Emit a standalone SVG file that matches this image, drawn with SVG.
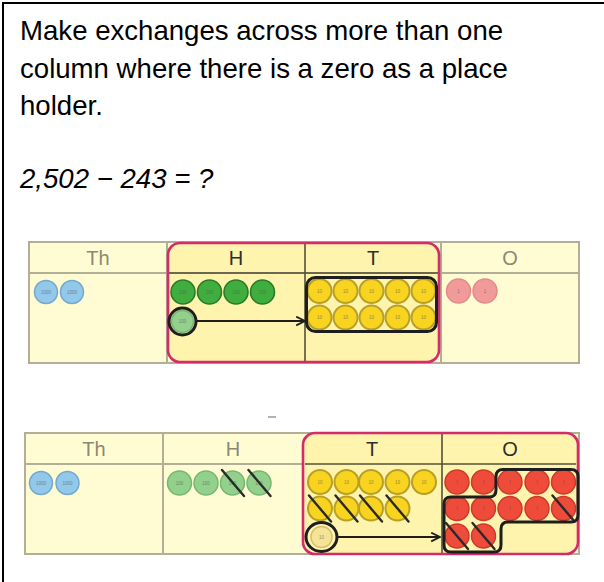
<svg xmlns="http://www.w3.org/2000/svg" width="604" height="582" viewBox="0 0 604 582">
<style>
.title{font-family:"Liberation Sans",Arial,sans-serif;font-size:27.6px;fill:#000}
.hdr{font-family:"Liberation Sans",Arial,sans-serif;font-size:20px;text-anchor:middle}
.g{fill:#8c8874}.d{fill:#2e2e2e}
.cell{fill:#fffbd3}
.hi{fill:#fff4ad}
.grid{stroke:#b3ae96;stroke-width:2;fill:none}
.dgrid{stroke:#55503a;stroke-width:1.6;fill:none}
.pink{fill:none;stroke:#d42b6b;stroke-width:2.6}
.th{fill:#92c8ea;stroke:#74a9cd;stroke-width:1.5}
.hd{fill:#3fae3f;stroke:#2b7a2b;stroke-width:1.6}
.hl{fill:#92d08c;stroke:#76b872;stroke-width:1.5}
.t{fill:#f8d31f;stroke:#b8a026;stroke-width:2}
.tl{fill:#f5e496;stroke:#d4c070;stroke-width:1.5}
.o1{fill:#f09a9a;stroke:#e58a8a;stroke-width:1.5}
.o2{fill:#ee4b3b;stroke:#cc3a2c;stroke-width:1.5}
.lab{font-family:"Liberation Sans",Arial,sans-serif;font-size:4.5px;text-anchor:middle;fill:#555;opacity:0.6}
.x{stroke:#2a2a2a;stroke-width:2.4;stroke-linecap:round}
.ring{fill:none;stroke:#1e1e1e;stroke-width:3}
.conn{stroke:#1e1e1e;stroke-width:2.2;fill:none}
</style>
<defs>
<marker id="arr" viewBox="0 0 10 10" refX="9" refY="5" markerWidth="5" markerHeight="5" orient="auto" markerUnits="strokeWidth">
<path d="M1,1 L9,5 L1,9" fill="none" stroke="#1e1e1e" stroke-width="1.6"/>
</marker>
</defs>
<rect width="604" height="582" fill="#fff"/>
<g id="frame"><path d="M3,582 V3 H604" fill="none" stroke="#000" stroke-width="2"/></g>
<g id="title">
<text class="title" x="20" y="40">Make exchanges across more than one</text>
<text class="title" x="20" y="77.5">column where there is a zero as a place</text>
<text class="title" x="20" y="115">holder.</text>
<text class="title" x="20" y="188" font-style="italic">2,502 − 243 = ?</text>
</g>
<g id="table1">
<rect class="cell" x="29" y="242" width="550" height="121"/>
<rect class="hi" x="168" y="243" width="271" height="119" rx="12"/>
<path class="grid" d="M29,242 H579 V363 H29 Z M29,273 H579 M167,242 V363 M441,242 V363"/>
<path class="dgrid" d="M169,273 H438 M305,243 V362"/>
<rect class="pink" x="168" y="243" width="271" height="119" rx="12"/>
<text class="hdr g" x="98" y="265">Th</text>
<text class="hdr d" x="236" y="265">H</text>
<text class="hdr d" x="373" y="265">T</text>
<text class="hdr g" x="510" y="265">O</text>
<g id="t1-th">
<circle class="th" cx="46" cy="292" r="11.5"/><text class="lab" x="46" y="293.5">1000</text>
<circle class="th" cx="72" cy="292" r="11.5"/><text class="lab" x="72" y="293.5">1000</text>
</g>
<g id="t1-h">
<circle class="hd" cx="183" cy="292" r="12"/><text class="lab" x="183" y="293.5">100</text>
<circle class="hd" cx="209.5" cy="292" r="12"/><text class="lab" x="209.5" y="293.5">100</text>
<circle class="hd" cx="236" cy="292" r="12"/><text class="lab" x="236" y="293.5">100</text>
<circle class="hd" cx="262.5" cy="292" r="12"/><text class="lab" x="262.5" y="293.5">100</text>
<circle class="hl" cx="182.5" cy="321.5" r="11"/><text class="lab" x="182.5" y="323">100</text>
<circle class="ring" cx="182.5" cy="321.5" r="13.5"/>
</g>
<g id="t1-t">
<circle class="t" cx="319.5" cy="291" r="12"/><text class="lab" x="319.5" y="292.5">10</text>
<circle class="t" cx="345.5" cy="291" r="12"/><text class="lab" x="345.5" y="292.5">10</text>
<circle class="t" cx="371.5" cy="291" r="12"/><text class="lab" x="371.5" y="292.5">10</text>
<circle class="t" cx="397.5" cy="291" r="12"/><text class="lab" x="397.5" y="292.5">10</text>
<circle class="t" cx="423.5" cy="291" r="12"/><text class="lab" x="423.5" y="292.5">10</text>
<circle class="t" cx="319.5" cy="317.5" r="12"/><text class="lab" x="319.5" y="319">10</text>
<circle class="t" cx="345.5" cy="317.5" r="12"/><text class="lab" x="345.5" y="319">10</text>
<circle class="t" cx="371.5" cy="317.5" r="12"/><text class="lab" x="371.5" y="319">10</text>
<circle class="t" cx="397.5" cy="317.5" r="12"/><text class="lab" x="397.5" y="319">10</text>
<circle class="t" cx="423.5" cy="317.5" r="12"/><text class="lab" x="423.5" y="319">10</text>
<rect class="ring" x="306.5" y="277.5" width="130" height="54" rx="9"/>
</g>
<g id="t1-o">
<circle class="o1" cx="458.5" cy="291" r="12"/><text class="lab" x="458.5" y="292.5">1</text>
<circle class="o1" cx="485" cy="291" r="12"/><text class="lab" x="485" y="292.5">1</text>
</g>
</g>
<g id="table2">
<line x1="268" y1="417" x2="276" y2="417" stroke="#9a9a9a" stroke-width="1.5"/>
<rect class="cell" x="25" y="433" width="554" height="121"/>
<rect class="hi" x="303" y="433" width="275" height="121" rx="12"/>
<path class="grid" d="M25,433 H579 V554 H25 Z M25,464 H303 M163,433 V554"/>
<path class="dgrid" d="M305,464 H576 M442,434 V553"/>
<rect class="pink" x="303" y="433" width="275" height="121" rx="12"/>
<text class="hdr g" x="94" y="456">Th</text>
<text class="hdr g" x="233" y="456">H</text>
<text class="hdr d" x="372" y="456">T</text>
<text class="hdr d" x="510" y="456">O</text>
<g id="t2-th">
<circle class="th" cx="41" cy="483" r="11.5"/><text class="lab" x="41" y="484.5">1000</text>
<circle class="th" cx="67.5" cy="483" r="11.5"/><text class="lab" x="67.5" y="484.5">1000</text>
</g>
<g id="t2-h">
<circle class="hl" cx="179.5" cy="483" r="12"/><text class="lab" x="179.5" y="484.5">100</text>
<circle class="hl" cx="206" cy="483" r="12"/><text class="lab" x="206" y="484.5">100</text>
<circle class="hl" cx="232.5" cy="483" r="12"/><text class="lab" x="232.5" y="484.5">100</text>
<circle class="hl" cx="259" cy="483" r="12"/><text class="lab" x="259" y="484.5">100</text>
<line class="x" x1="222" y1="470" x2="244" y2="496"/>
<line class="x" x1="248.5" y1="470" x2="270.5" y2="496"/>
</g>
<g id="t2-t">
<circle class="t" cx="320" cy="482" r="12"/><text class="lab" x="320" y="483.5">10</text>
<circle class="t" cx="346.5" cy="482" r="12"/><text class="lab" x="346.5" y="483.5">10</text>
<circle class="t" cx="371" cy="482" r="12"/><text class="lab" x="371" y="483.5">10</text>
<circle class="t" cx="397.5" cy="482" r="12"/><text class="lab" x="397.5" y="483.5">10</text>
<circle class="t" cx="424" cy="482" r="12"/><text class="lab" x="424" y="483.5">10</text>
<circle class="t" cx="320" cy="508.5" r="12"/>
<circle class="t" cx="346.5" cy="508.5" r="12"/>
<circle class="t" cx="371" cy="508.5" r="12"/>
<circle class="t" cx="397.5" cy="508.5" r="12"/>
<line class="x" x1="309" y1="495.5" x2="331" y2="521.5"/>
<line class="x" x1="335.5" y1="495.5" x2="357.5" y2="521.5"/>
<line class="x" x1="360" y1="495.5" x2="382" y2="521.5"/>
<line class="x" x1="386.5" y1="495.5" x2="408.5" y2="521.5"/>
<circle class="tl" cx="321.5" cy="537" r="10.5"/><text class="lab" x="321.5" y="538.5">10</text>
<ellipse class="ring" cx="321.5" cy="537" rx="15.5" ry="14.5"/>
</g>
<g id="t2-o">
<circle class="o2" cx="457" cy="482" r="12"/><text class="lab" x="457" y="483.5">1</text>
<circle class="o2" cx="483.5" cy="482" r="12"/><text class="lab" x="483.5" y="483.5">1</text>
<circle class="o2" cx="510" cy="482" r="12"/><text class="lab" x="510" y="483.5">1</text>
<circle class="o2" cx="537" cy="482" r="12"/><text class="lab" x="537" y="483.5">1</text>
<circle class="o2" cx="563.5" cy="482" r="12"/><text class="lab" x="563.5" y="483.5">1</text>
<circle class="o2" cx="457" cy="508.5" r="12"/><text class="lab" x="457" y="510">1</text>
<circle class="o2" cx="483.5" cy="508.5" r="12"/><text class="lab" x="483.5" y="510">1</text>
<circle class="o2" cx="510" cy="508.5" r="12"/><text class="lab" x="510" y="510">1</text>
<circle class="o2" cx="537" cy="508.5" r="12"/><text class="lab" x="537" y="510">1</text>
<circle class="o2" cx="563.5" cy="508.5" r="12"/>
<circle class="o2" cx="457" cy="536" r="12"/>
<circle class="o2" cx="483.5" cy="536" r="12"/>
<line class="x" x1="552.5" y1="495.5" x2="574.5" y2="521.5"/>
<line class="x" x1="446" y1="523" x2="468" y2="549"/>
<line class="x" x1="472.5" y1="523" x2="494.5" y2="549"/>
<path class="ring" d="M505,469.5 H571 Q578,469.5 578,476.5 V515 Q578,522 571,522 H508 Q501,522 501,529 V545 Q501,552 494,552 H451 Q444,552 444,545 V504 Q444,497 451,497 H489 Q496,497 496,490 V476.5 Q496,469.5 503,469.5 Z"/>
</g>
</g>
<g id="connectors">
<line class="conn" x1="196.5" y1="321" x2="305" y2="321" marker-end="url(#arr)"/>
<line class="conn" x1="337.5" y1="537" x2="440" y2="537" marker-end="url(#arr)"/>
</g>
</svg>
